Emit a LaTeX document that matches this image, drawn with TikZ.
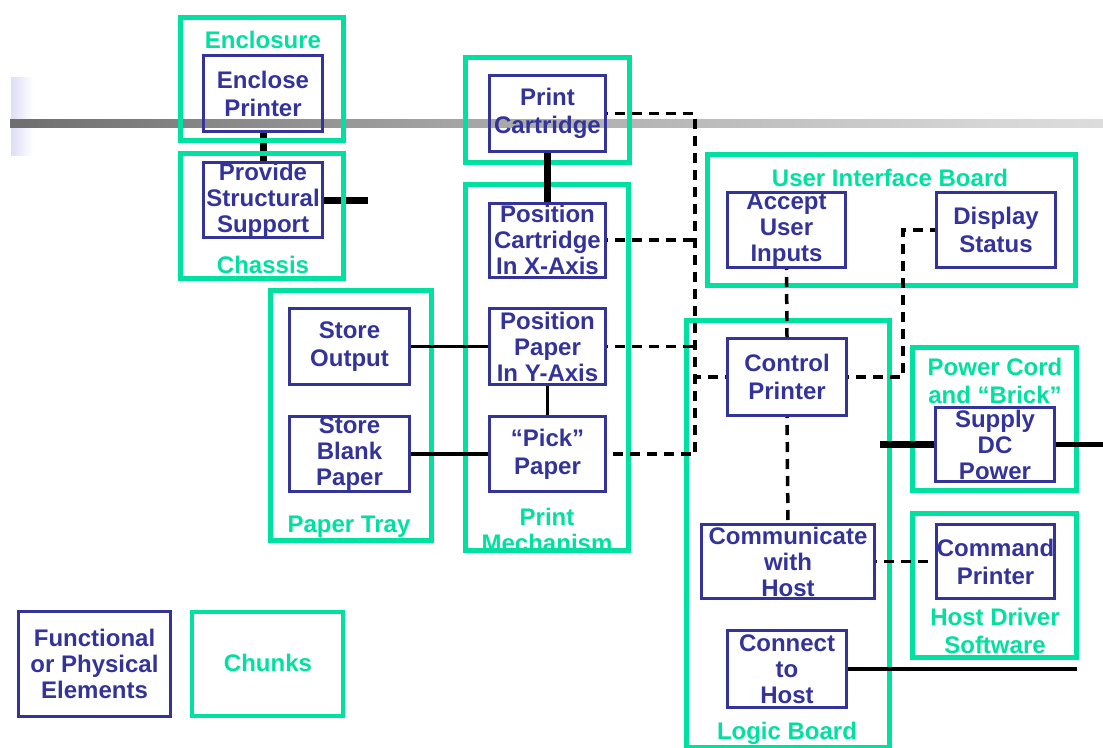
\documentclass[tikz,border=0pt]{standalone}
\usepackage{fontspec}
\setmainfont{Liberation Sans}
\definecolor{elemblue}{RGB}{51,51,153}
\definecolor{chunkgreen}{RGB}{0,224,160}
\definecolor{stripblue}{RGB}{222,222,246}
% grey rule that fades out towards the right
\pgfdeclarehorizontalshading{rulefade}{100bp}{color(0bp)=(black!80); color(20bp)=(black!62); color(45bp)=(black!36); color(70bp)=(black!16); color(100bp)=(black!2)}

\begin{document}
\begin{tikzpicture}[x=1pt,y=-1pt,
  elem/.style={draw=elemblue, line width=3pt, text=elemblue, inner sep=0pt,
    align=center, font=\fontsize{24}{26}\selectfont\bfseries},
  elemtwo/.style={elem, font=\fontsize{24}{28}\selectfont\bfseries},
  chunk/.style={draw=chunkgreen, line width=5pt, inner sep=0pt},
  chunklabel/.style={text=chunkgreen, inner sep=0pt, align=center,
    font=\fontsize{24}{28}\selectfont\bfseries},
  link/.style={draw=black, line width=3.5pt},
  heavylink/.style={draw=black, line width=7pt},
  softlink/.style={draw=black, line width=3.5pt, dash pattern=on 10pt off 7pt, dash phase=-8pt}]

\useasboundingbox (0,0) rectangle (1103,747);

% slide decoration
\shade[left color=stripblue, right color=white] (11,77) rectangle (33,155);
\shade[shading=rulefade] (10,119) rectangle (1103,127);

% functional / physical elements
\node[elemtwo, minimum width=119pt, minimum height=76pt] (encl) at (263,93.5) {Enclose\\Printer};
\node[elem, minimum width=119pt, minimum height=75pt] (prov) at (263,200) {Provide\\Structural\\Support};
\node[elemtwo, minimum width=116pt, minimum height=76pt] (pcart) at (547.5,113.5) {Print\\Cartridge};
\node[elem, minimum width=116pt, minimum height=74pt] (poscx) at (547.5,240) {Position\\Cartridge\\In X-Axis};
\node[elem, minimum width=116pt, minimum height=76pt] (pospy) at (547.5,346.5) {Position\\Paper\\In Y-Axis};
\node[elemtwo, minimum width=116pt, minimum height=75pt] (pick) at (547.5,454) {“Pick”\\Paper};
\node[elemtwo, minimum width=120pt, minimum height=76pt] (sout) at (349.5,346.5) {Store\\Output};
\node[elem, minimum width=120pt, minimum height=75pt] (sblank) at (349.5,454) {Store\\Blank\\Paper};
\node[elem, minimum width=118pt, minimum height=75pt] (accept) at (786.5,230) {Accept\\User\\Inputs};
\node[elemtwo, minimum width=119pt, minimum height=75pt] (disp) at (996,230) {Display\\Status};
\node[elemtwo, minimum width=119pt, minimum height=77pt] (ctrl) at (787,377) {Control\\Printer};
\node[elem, minimum width=173pt, minimum height=74pt] (comm) at (788,561.5) {Communicate\\with\\Host};
\node[elem, minimum width=119pt, minimum height=77pt] (conn) at (787,669) {Connect\\to\\Host};
\node[elem, minimum width=119pt, minimum height=74pt] (supply) at (995,444.5) {Supply\\DC\\Power};
\node[elemtwo, minimum width=118pt, minimum height=74pt] (cmd) at (995.5,561.5) {Command\\Printer};
\node[elem, minimum width=152pt, minimum height=105pt] (legelem) at (94.5,664) {Functional\\or Physical\\Elements};

% couplings that run beneath the chunk outlines
\coordinate (psEnd) at (368,200);
\draw[heavylink] (encl.south) -- (prov.north);
\draw[heavylink] (prov.east) -- (psEnd);

% chunk labels
\node[chunklabel] (lblEncl) at (263,40) {Enclosure};
\node[chunklabel] (lblChassis) at (263,265) {Chassis};
\node[chunklabel] (lblTray) at (349,527) {Paper Tray};
\node[chunklabel, font=\fontsize{24}{26}\selectfont\bfseries] (lblMech) at (547,530) {Print\\Mechanism};
\node[chunklabel] (lblUI) at (890,178) {User Interface Board};
\node[chunklabel] (lblPower) at (995,381) {Power Cord\\and “Brick”};
\node[chunklabel] (lblDriver) at (995,631) {Host Driver\\Software};
\node[chunklabel] (lblLogic) at (787,733) {Logic Board};
\node[chunklabel] (lblChunks) at (268,663) {Chunks};

% chunks
\node[chunk, minimum width=163pt, minimum height=123pt] (enclosure) at (262,79) {};
\node[chunk, minimum width=163pt, minimum height=125pt] (chassis) at (262,216) {};
\node[chunk, minimum width=164pt, minimum height=105pt] (cartchunk) at (547.5,110) {};
\node[chunk, minimum width=163pt, minimum height=366pt] (printmech) at (547,367.5) {};
\node[chunk, minimum width=161pt, minimum height=250pt] (papertray) at (351,415.5) {};
\node[chunk, minimum width=368pt, minimum height=131pt] (uiboard) at (891.5,220) {};
\node[chunk, minimum width=203pt, minimum height=427pt] (logic) at (788,534) {};
\node[chunk, minimum width=164pt, minimum height=143pt] (powercord) at (994.5,419) {};
\node[chunk, minimum width=164pt, minimum height=144pt] (hostdriver) at (994.5,585.5) {};
\node[chunk, line width=4pt, minimum width=151pt, minimum height=104pt] (legchunk) at (267.5,664) {};

% solid couplings
\coordinate (hostEnd) at (1077,669);
\coordinate (mainsIn) at (880,444.5);
\coordinate (mainsOut) at (1103,444.5);
\draw[heavylink] (pcart.south) -- (poscx.north);
\draw[link] (sout.east) -- (pospy.west);
\draw[link] (sblank.east) -- (pick.west);
\draw[link] (pospy.south) -- (pick.north);
\draw[link] (conn.east) -- (hostEnd);
\draw[heavylink] (supply.west) -- (mainsIn);
\draw[line width=5pt] (supply.east) -- (mainsOut);

% control / signal couplings
\coordinate (busTop) at (695,113.5);
\coordinate (busBot) at (695,454);
\coordinate (uiTurn) at (903,230);
\draw[softlink] (pcart.east) -- (busTop) -- (busBot) -- (pick.east);
\draw[softlink] (poscx.east) -- (poscx.east -| busTop);
\draw[softlink] (pospy.east) -- (pospy.east -| busTop);
\draw[softlink] (ctrl.west) -- (ctrl.west -| busTop);
\draw[softlink] (ctrl.east) -| (uiTurn) -- (disp.west);
\draw[softlink] (accept.south) -- (ctrl.north);
\draw[softlink] (ctrl.south) -- (comm.north);
\draw[softlink] (comm.east) -- (cmd.west);
\end{tikzpicture}
\end{document}
